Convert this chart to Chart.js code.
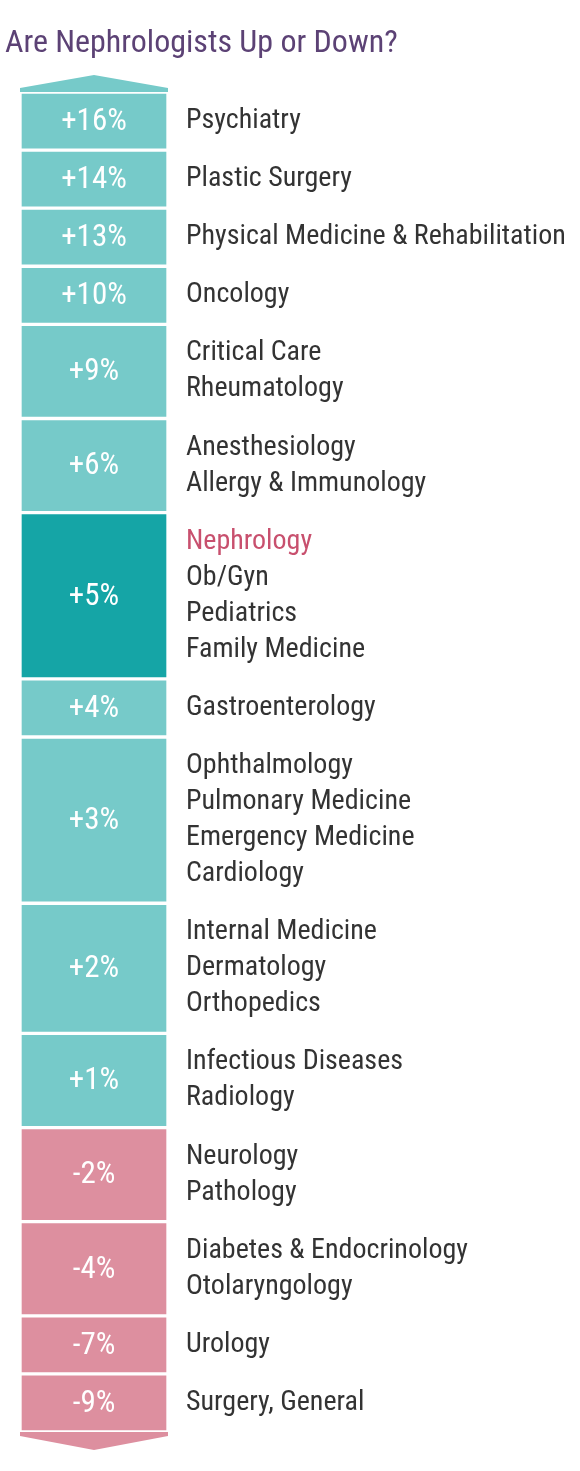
<!DOCTYPE html>
<html><head><meta charset="utf-8">
<script src="https://cdn.jsdelivr.net/npm/chart.js@4"></script>
<style>html,body{margin:0;padding:0;background:#fff;}#c{display:block;}</style>
</head><body>
<canvas id="c" width="580" height="1471"></canvas>
<script>
const changes = ["+16%","+14%","+13%","+10%","+9%","+6%","+5%","+4%","+3%","+2%","+1%","-2%","-4%","-7%","-9%"];
const specialties = [
 ["Psychiatry"],["Plastic Surgery"],["Physical Medicine & Rehabilitation"],["Oncology"],
 ["Critical Care","Rheumatology"],["Anesthesiology","Allergy & Immunology"],
 ["Nephrology","Ob/Gyn","Pediatrics","Family Medicine"],["Gastroenterology"],
 ["Ophthalmology","Pulmonary Medicine","Emergency Medicine","Cardiology"],
 ["Internal Medicine","Dermatology","Orthopedics"],["Infectious Diseases","Radiology"],
 ["Neurology","Pathology"],["Diabetes & Endocrinology","Otolaryngology"],["Urology"],["Surgery, General"]];
const segColors = changes.map((c,i)=> i===6 ? "#15a5a6" : (c[0]==="-" ? "#dd8f9f" : "#76cac9"));
const heights = specialties.map(s=>22+36*s.length);
const total = heights.reduce((a,b)=>a+b,0);
const FONT = '"Liberation Sans Narrow","Roboto Condensed",Roboto,sans-serif';

const plugin = {
 id:'deco',
 beforeDatasetsDraw(chart){
  const ctx=chart.ctx, y=chart.scales.y;
  const el0=chart.getDatasetMeta(0).data[0];
  const l=el0.x-el0.width/2, r=el0.x+el0.width/2, cx=el0.x;
  const top=y.getPixelForValue(0), bot=y.getPixelForValue(total);
  ctx.save();
  ctx.fillStyle=segColors[0];
  ctx.beginPath();ctx.moveTo(l,top+1);ctx.lineTo(l,top-4);ctx.lineTo(cx,top-17);ctx.lineTo(r,top-4);ctx.lineTo(r,top+1);ctx.fill();
  ctx.fillStyle=segColors[segColors.length-1];
  ctx.beginPath();ctx.moveTo(l,bot-1);ctx.lineTo(l,bot+4);ctx.lineTo(cx,bot+18);ctx.lineTo(r,bot+4);ctx.lineTo(r,bot-1);ctx.fill();
  ctx.restore();
 },
 afterDatasetsDraw(chart){
  const ctx=chart.ctx;
  ctx.save();
  ctx.font='32px '+FONT; ctx.fillStyle='#5c4275'; ctx.textBaseline='alphabetic'; ctx.textAlign='left';
  ctx.fillText('Are Nephrologists Up or Down?',5,52);
  chart.data.datasets.forEach((ds,i)=>{
   const el=chart.getDatasetMeta(i).data[0];
   const t=Math.min(el.y,el.base), b=Math.max(el.y,el.base), mid=(t+b)/2;
   ctx.textBaseline='middle';
   ctx.textAlign='center'; ctx.fillStyle='#fff'; ctx.font='31px '+FONT;
   ctx.fillText(changes[i],el.x,mid+1);
   ctx.textAlign='left'; ctx.font='28px '+FONT;
   const lines=specialties[i], n=lines.length;
   lines.forEach((s,k)=>{
    ctx.fillStyle=(s==='Nephrology')?'#c8506e':'#333';
    ctx.fillText(s,186,mid+(k-(n-1)/2)*36);
   });
  });
  ctx.restore();
 }
};

new Chart(document.getElementById('c'),{
 type:'bar',
 data:{labels:['x'],datasets:heights.map((h,i)=>({data:[h],backgroundColor:segColors[i],borderColor:'#fff',borderWidth:2,borderSkipped:false,barPercentage:1,categoryPercentage:1}))},
 options:{responsive:false,animation:false,
  layout:{padding:{top:92,bottom:39,left:20,right:412}},
  plugins:{legend:{display:false},tooltip:{enabled:false}},
  scales:{x:{display:false,stacked:true},y:{display:false,stacked:true,reverse:true,min:0,max:total}}},
 plugins:[plugin]
});
</script></body></html>
